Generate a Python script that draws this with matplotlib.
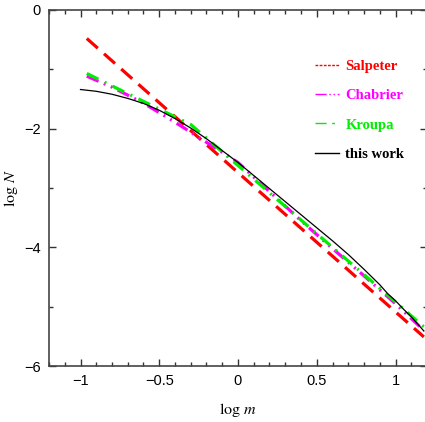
import matplotlib
matplotlib.use("Agg")
import matplotlib.pyplot as plt
from matplotlib.lines import Line2D
from matplotlib.ticker import MultipleLocator, FuncFormatter

# ---- data ----
salpeter_x = [-0.96, 0.0, 1.18]
salpeter_y = [-0.48, -2.74, -5.51]

chabrier_x = [-0.96, -0.8, -0.6, -0.4, -0.2, 0.0, 0.2, 0.4, 0.6, 0.8, 1.0, 1.18]
chabrier_y = [-1.115, -1.30, -1.57, -1.89, -2.23, -2.57, -3.06, -3.55, -4.02, -4.48, -4.95, -5.40]

kroupa_x = [-0.96, -0.6, -0.3, 0.0, 0.3, 0.6, 0.9, 1.18]
kroupa_y = [-1.07, -1.54, -1.93, -2.62, -3.31, -4.00, -4.69, -5.34]

work_x = [-1.0, -0.9, -0.8, -0.7, -0.6, -0.5, -0.4, -0.3, -0.2, -0.1, 0.0, 0.1, 0.2,
          0.3, 0.4, 0.5, 0.6, 0.7, 0.8, 0.9, 0.95, 1.0, 1.05, 1.1, 1.18]
work_y = [-1.34, -1.37, -1.42, -1.49, -1.575, -1.69, -1.83, -1.99, -2.17, -2.37, -2.57,
          -2.79, -3.01, -3.23, -3.45, -3.67, -3.89, -4.12, -4.37, -4.63, -4.78, -4.90,
          -5.04, -5.17, -5.41]

labels = ["Salpeter", "Chabrier", "Kroupa", "this work"]
colors = ["#ff0000", "#ff00ff", "#00ee00", "#000000"]

plt.rcParams["mathtext.fontset"] = "stix"

fig = plt.figure(figsize=(4.25, 4.22), dpi=100)
ax = fig.add_axes([49/425, 1-366/422, (427-49)/425, 356/422])

ax.plot(salpeter_x, salpeter_y, color=colors[0], lw=2.3, dashes=(4.6, 2.6))
ax.plot(chabrier_x, chabrier_y, color=colors[1], lw=2.3, dashes=(4.0, 1.8, 0.6, 1.8, 0.6, 1.8))
ax.plot(kroupa_x, kroupa_y, color=colors[2], lw=2.3, dashes=(4.0, 2.2, 0.6, 2.2))
ax.plot(work_x, work_y, color=colors[3], lw=0.9)

ax.set_xlim(-1.2, 1.2)
ax.set_ylim(-6, 0)
ax.xaxis.set_major_locator(MultipleLocator(0.5))
ax.xaxis.set_minor_locator(MultipleLocator(0.1))
ax.yaxis.set_major_locator(MultipleLocator(2))
ax.yaxis.set_minor_locator(MultipleLocator(1))


def fmt(v, pos):
    s = ("%g" % round(v, 2))
    if s == "-0":
        s = "0"
    return s.replace("-", "\u2212")


ax.xaxis.set_major_formatter(FuncFormatter(fmt))
ax.yaxis.set_major_formatter(FuncFormatter(fmt))
ax.tick_params(which="both", direction="in", top=True, right=True, width=1.0, color="#333333")
ax.tick_params(which="major", length=5)
ax.tick_params(which="minor", length=3)
ax.tick_params(labelsize=10.5, pad=6)
for lab in ax.get_xticklabels() + ax.get_yticklabels():
    lab.set_family("Liberation Sans")
for s in ax.spines.values():
    s.set_linewidth(1.2)
    s.set_color("#444444")

ax.set_xlabel(r"$\mathrm{log}\ m$", fontsize=11.5, labelpad=9)
ax.set_ylabel(r"$\mathrm{log}\ N$", fontsize=11.5, labelpad=3)

handles = [
    Line2D([], [], color=colors[0], lw=1.0, dashes=(2, 1)),
    Line2D([], [], color=colors[1], lw=1.0, dashes=(8, 2, 1, 2, 1, 2)),
    Line2D([], [], color=colors[2], lw=1.0, dashes=(8, 4, 2, 4)),
    Line2D([], [], color=colors[3], lw=1.0),
]
leg = ax.legend(handles, labels, loc="upper left", bbox_to_anchor=(0.705, 0.86),
                frameon=False, handlelength=1.6, handletextpad=0.45,
                labelspacing=1.1, prop={"family": "Liberation Serif", "size": 10.5, "weight": "bold"},
                labelcolor=colors, borderpad=0, borderaxespad=0)

fig.savefig("out.png", dpi=100)
